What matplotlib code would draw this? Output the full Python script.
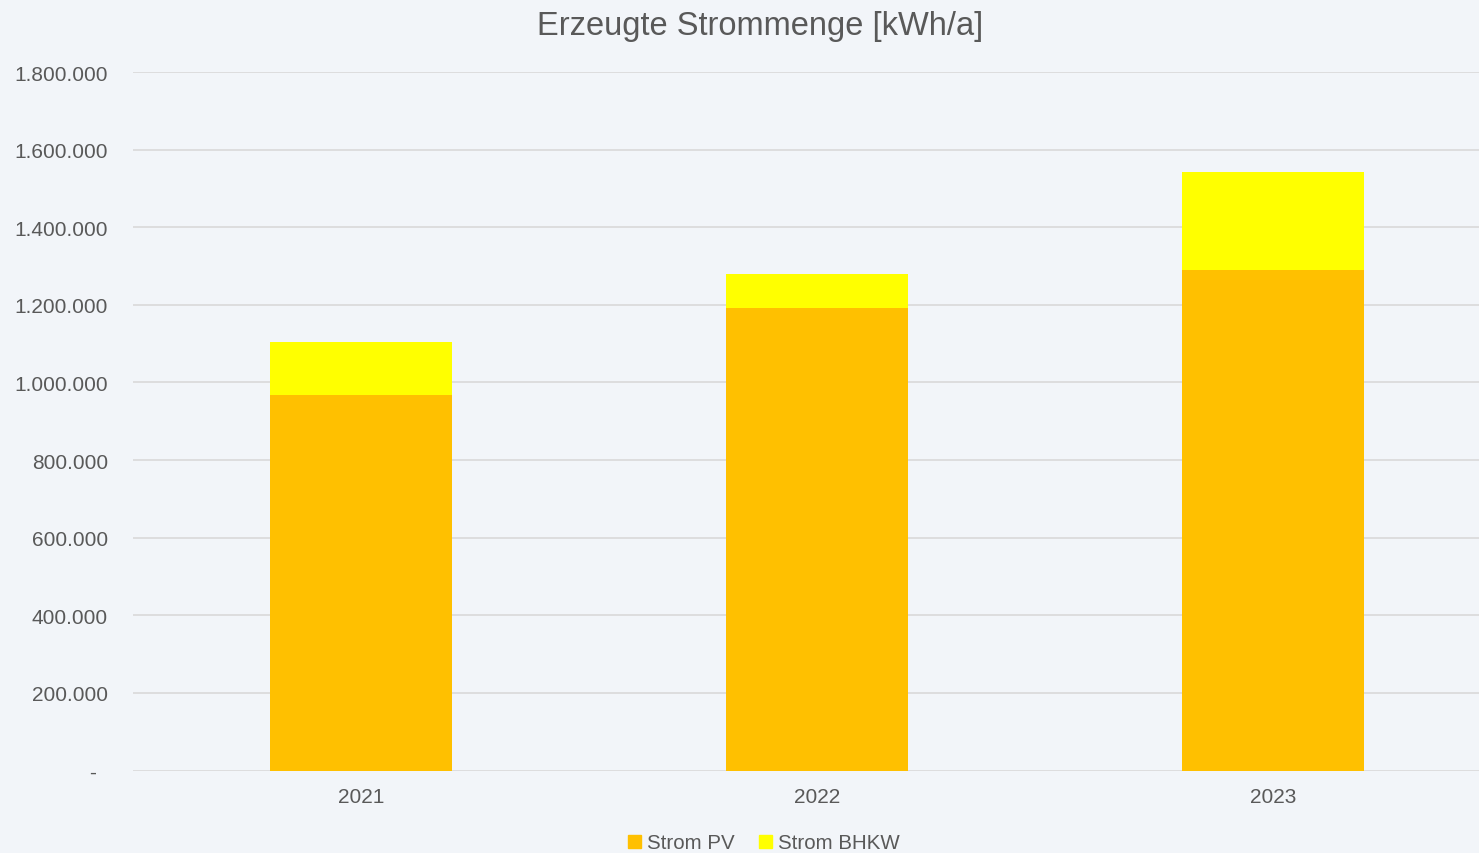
"""
Erzeugte Strommenge je Jahr, gestapelt nach PV und BHKW
"""

import matplotlib.pyplot as plt
import numpy as np
from matplotlib.patches import Patch
from matplotlib.ticker import FuncFormatter

years = ["2021", "2022", "2023"]
strom_pv = [967000, 1190600, 1289400]
strom_bhkw = [136700, 88500, 252700]

BG = "#F2F5F9"
TEXT = "#595959"
GRID = "#D9D9D9"
PV_COLOR = "#FFC000"
BHKW_COLOR = "#FFFF00"

plt.rcParams["font.family"] = ["Liberation Sans", "DejaVu Sans"]


def de_format(v, pos):
    # Excel-Buchhaltungsformat: Tausenderpunkte, Null als "-"
    if v == 0:
        return "-  "
    return f"{v:,.0f}".replace(",", ".")


fig = plt.figure(figsize=(14.79, 8.54), dpi=100, facecolor=BG)
ax = fig.add_axes([133 / 1479, 1 - 771.5 / 854, 1 - 133 / 1479, 698.5 / 854])
ax.set_facecolor(BG)

x = np.arange(len(years))
ax.bar(x, strom_pv, width=0.4, color=PV_COLOR, zorder=3)
ax.bar(x, strom_bhkw, width=0.4, bottom=strom_pv, color=BHKW_COLOR, zorder=3)

ax.set_xlim(-0.5, 2 + (1479 - 1273) / 456)
ax.set_ylim(0, 1800000)
ax.set_yticks(np.arange(0, 1800001, 200000))
ax.yaxis.set_major_formatter(FuncFormatter(de_format))
ax.set_xticks(x)
ax.set_xticklabels(years)

ax.grid(True, axis="y", color=GRID, linewidth=1.2, zorder=0)
for s in ax.spines.values():
    s.set_visible(False)
ax.tick_params(axis="y", length=0, pad=18, labelsize=15, labelcolor=TEXT)
ax.tick_params(axis="x", length=0, pad=12, labelsize=15, labelcolor=TEXT)

fig.text(760 / 1479, 1 - 26 / 854, "Erzeugte Strommenge [kWh/a]", ha="center", va="center",
         fontsize=23.5, color=TEXT)

handles = [Patch(color=PV_COLOR, label="Strom PV"), Patch(color=BHKW_COLOR, label="Strom BHKW")]
fig.legend(handles=handles, loc="center", bbox_to_anchor=(764 / 1479, 10 / 854), ncol=2,
           frameon=False, fontsize=14.8, labelcolor=TEXT, handlelength=0.6, handleheight=0.6,
           handletextpad=0.3, columnspacing=1.2)

plt.savefig("out.png", dpi=100, facecolor=BG)
